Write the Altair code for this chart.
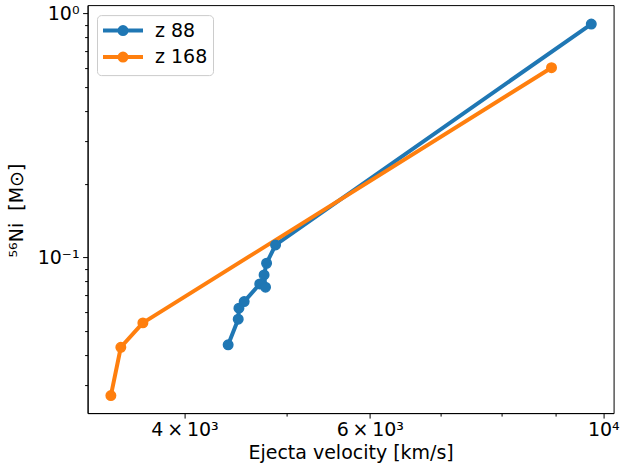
import altair as alt
import pandas as pd

# --- data ---
series_names = ["z 88", "z 168"]
series_colors = ["#1f77b4", "#ff7f0e"]

vel_z88 = [4401, 4499, 4506, 4558, 4716, 4776, 4761, 4787, 4882, 9741]
ni_z88 = [0.0439, 0.0559, 0.0620, 0.0660, 0.0780, 0.0756, 0.0849, 0.0948, 0.1127, 0.906]

vel_z168 = [3405, 3480, 3652, 8929]
ni_z168 = [0.0272, 0.0429, 0.0540, 0.600]

x_ticks = [4000, 5000, 6000, 7000, 8000, 9000, 10000]
y_ticks = [0.03, 0.04, 0.05, 0.06, 0.07, 0.08, 0.09, 0.1,
           0.2, 0.3, 0.4, 0.5, 0.6, 0.7, 0.8, 0.9, 1.0]

rows = []
for name, vs, ns in [("z 88", vel_z88, ni_z88), ("z 168", vel_z168, ni_z168)]:
    for i, (v, n) in enumerate(zip(vs, ns)):
        rows.append({"series": name, "vel": v, "ni": n, "idx": i})
df = pd.DataFrame(rows)

FONT = "DejaVu Sans"
FS = 19

x_scale = alt.Scale(type="log", domain=[3236, 10228], nice=False)
y_scale = alt.Scale(type="log", domain=[0.02305, 1.0834], nice=False)
c_scale = alt.Scale(domain=series_names, range=series_colors)

x_axis = alt.Axis(
    values=x_ticks,
    labelExpr="datum.value == 4000 ? '4\u2009×\u200910³' : datum.value == 6000 ? '6\u2009×\u200910³' : datum.value == 10000 ? '10⁴' : ''",
    tickSize={"condition": {"test": "datum.value == 4000 || datum.value == 6000 || datum.value == 10000", "value": 5}, "value": 3},
    grid=False,
    title="Ejecta velocity [km/s]",
    titleX=263, titleY=39, titleBaseline="middle", titleAlign="center",
    labelPadding=2, labelFlush=False, labelOverlap=False,
    labelFont=FONT, titleFont=FONT, labelFontSize=FS, titleFontSize=FS,
    titleFontWeight="normal", labelColor="black", titleColor="black",
)
y_axis = alt.Axis(
    values=y_ticks,
    labelExpr="datum.value == 1 ? '10⁰' : datum.value == 0.1 ? '10⁻¹' : ''",
    tickSize={"condition": {"test": "datum.value == 1 || datum.value == 0.1", "value": 5}, "value": 3},
    grid=False,
    title="⁵⁶Ni\u00a0\u00a0[M⊙]",
    titleX=-71, titleY=205, titleBaseline="middle", titleAlign="center", titleAngle=270,
    labelPadding=3.6, labelFlush=False, labelOverlap=False,
    labelFont=FONT, titleFont=FONT, labelFontSize=FS, titleFontSize=FS,
    titleFontWeight="normal", labelColor="black", titleColor="black",
)

legend = alt.Legend(
    title=None,
    orient="none",
    legendX=9.4, legendY=10,
    symbolType="M-2.5,0L2.5,0M0.44,0A0.44,0.44,0,1,1,-0.44,0A0.44,0.44,0,1,1,0.44,0Z",
    symbolSize=256,
    symbolStrokeWidth=4,
    symbolOffset=10.5,
    labelOffset=22,
    labelFont=FONT, labelFontSize=FS, labelColor="black",
    padding=5.5,
    rowPadding=2.5,
    strokeColor="#cccccc",
    fillColor="rgba(255,255,255,0.8)",
    cornerRadius=4,
)

base = alt.Chart(df)

lines = base.mark_line(strokeWidth=4, strokeCap="round", strokeJoin="round").encode(
    x=alt.X("vel:Q", scale=x_scale, axis=x_axis),
    y=alt.Y("ni:Q", scale=y_scale, axis=y_axis),
    stroke=alt.Stroke("series:N", scale=c_scale, legend=legend, sort=series_names),
    order="idx:Q",
)

points = base.mark_point(filled=True, size=90, opacity=1, strokeWidth=1.5).encode(
    x=alt.X("vel:Q", scale=x_scale, axis=x_axis),
    y=alt.Y("ni:Q", scale=y_scale, axis=y_axis),
    fill=alt.Fill("series:N", scale=c_scale, legend=legend, sort=series_names),
    stroke=alt.Stroke("series:N", scale=c_scale, legend=legend, sort=series_names),
)

chart = alt.layer(lines, points).properties(
    width=526, height=408,
    background="white",
    autosize=alt.AutoSizeParams(type="none"),
    padding={"left": 87.6, "top": 5.1, "right": 7.2, "bottom": 53.6},
).configure_view(
    stroke="black", strokeWidth=1
).configure_axis(
    domainColor="black", tickColor="black", labelColor="black", titleColor="black",
    labelFont=FONT, titleFont=FONT, labelFontSize=FS, titleFontSize=FS,
    titleFontWeight="normal", tickWidth=1, domainWidth=1,
)

chart.save("out.html", embed_options={"renderer": "svg", "actions": False})
